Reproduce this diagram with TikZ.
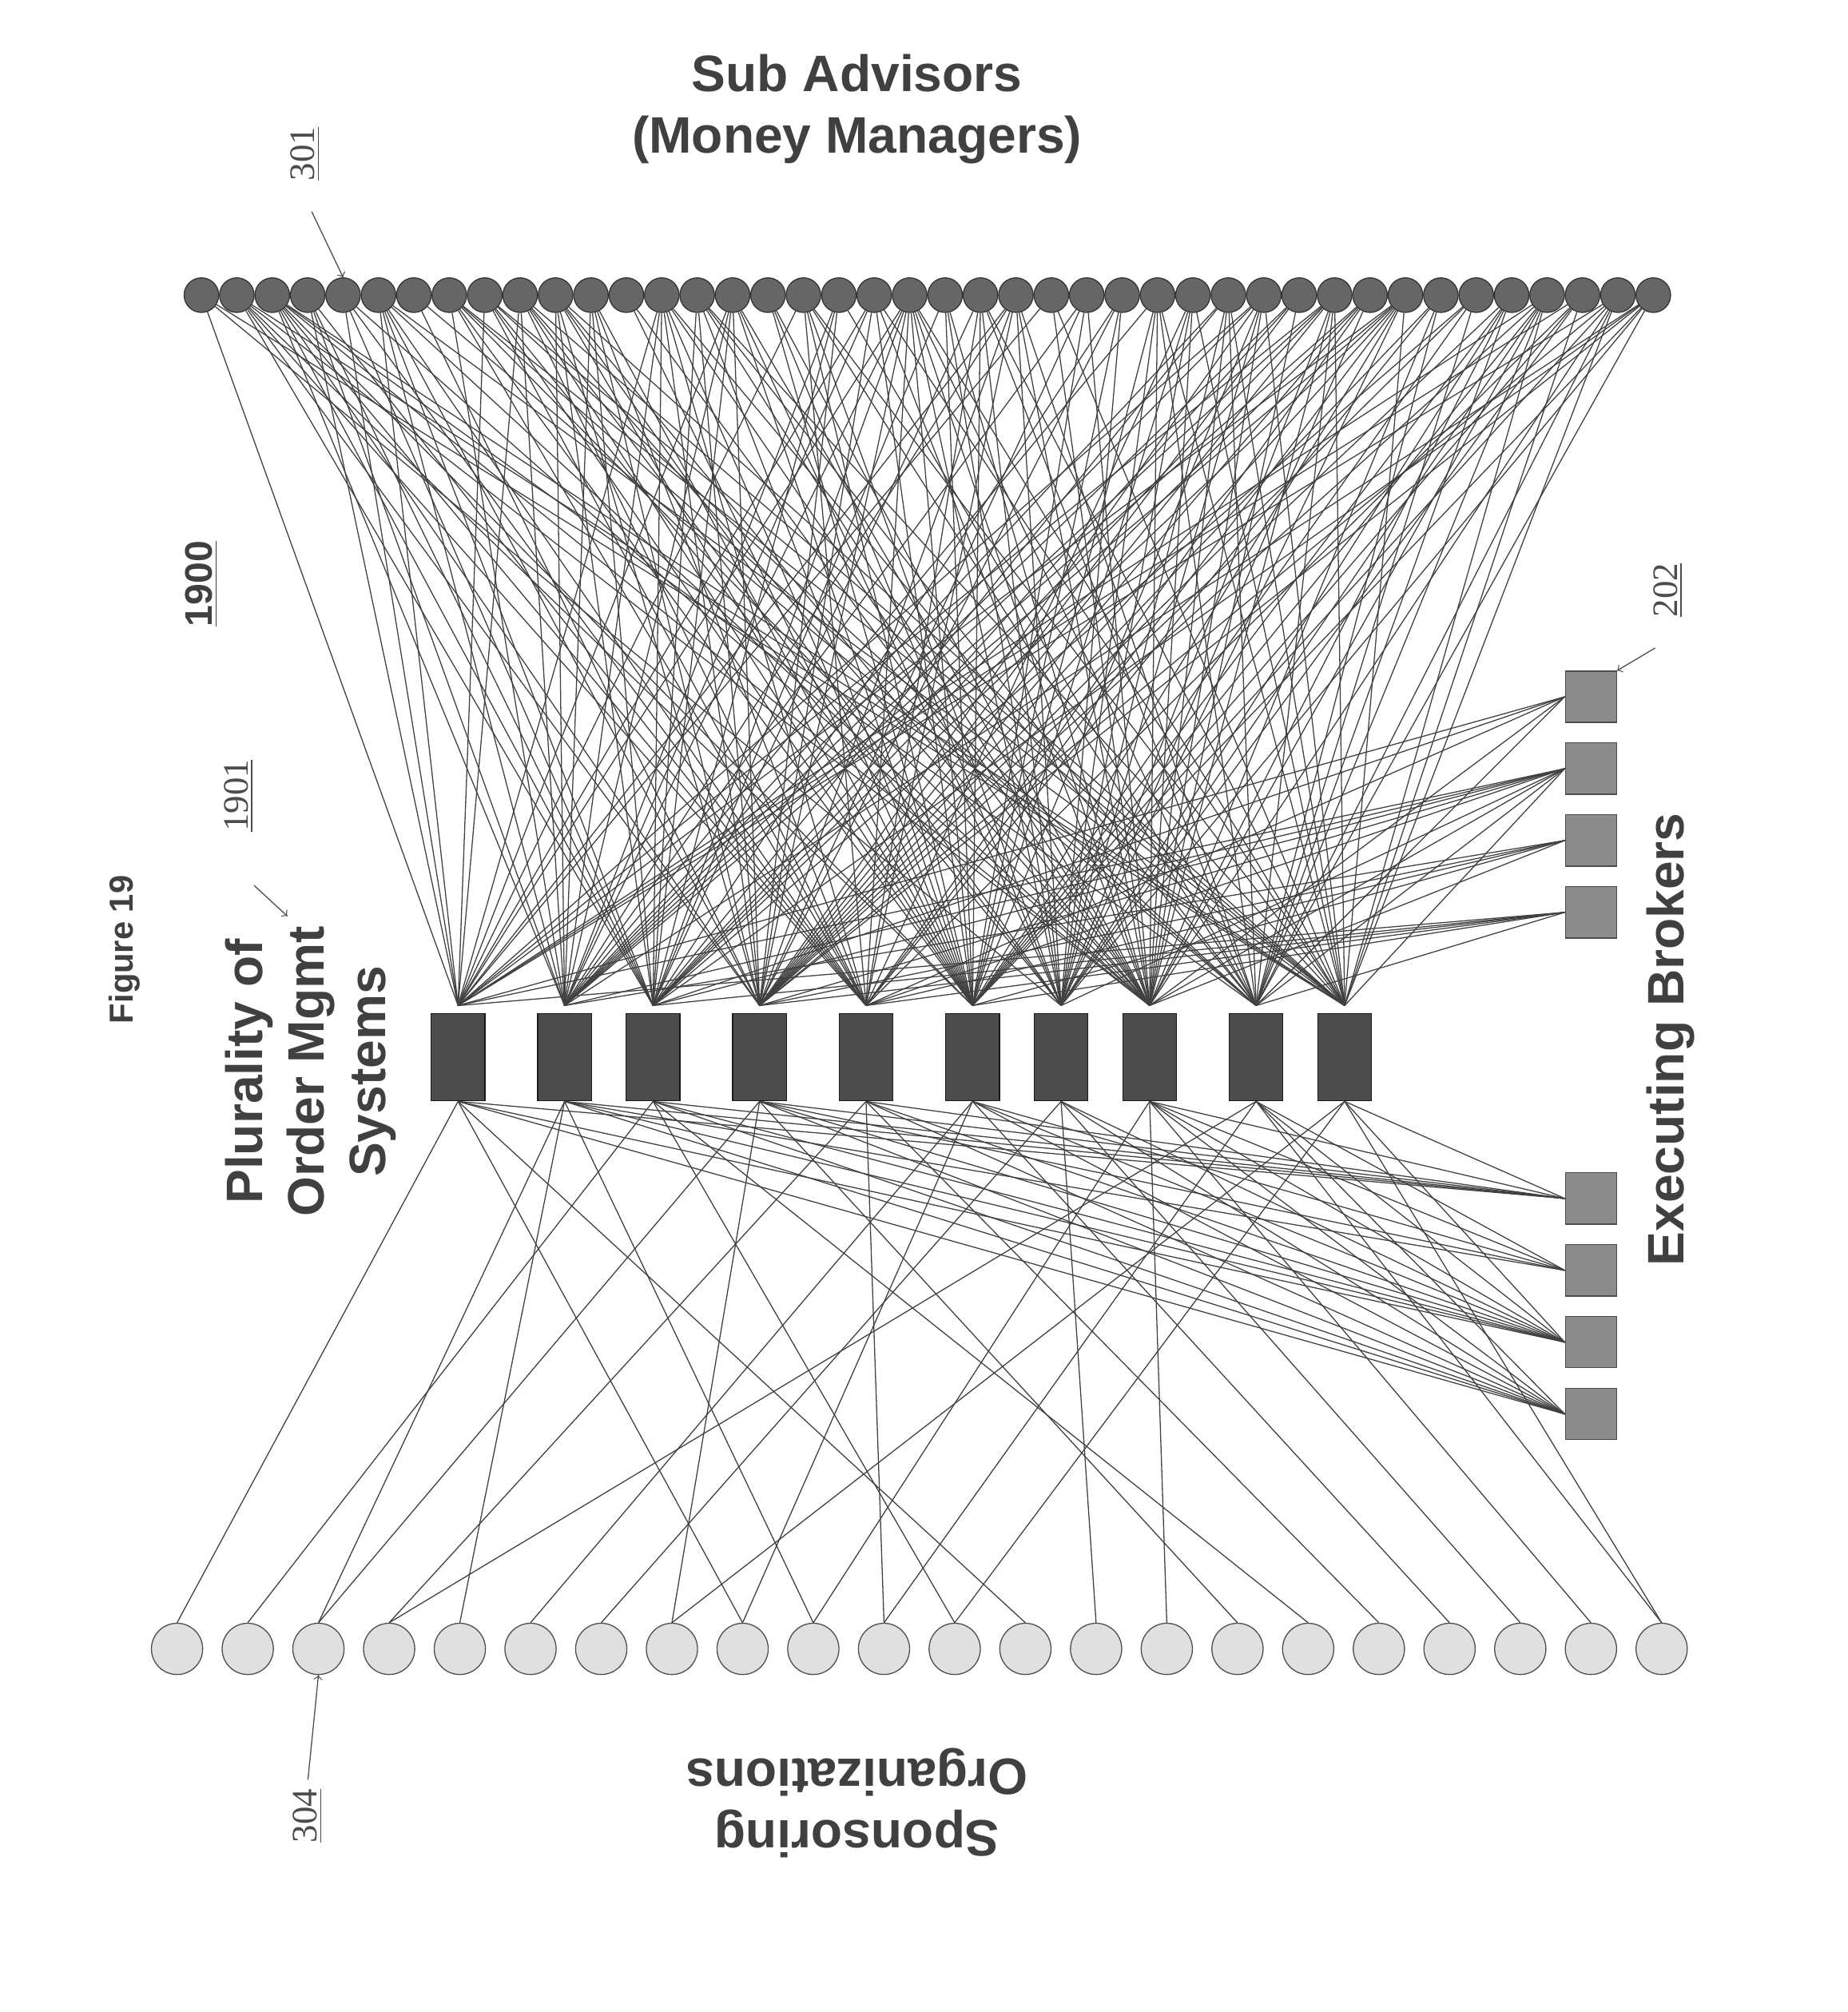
\documentclass[tikz,border=0pt]{standalone}
\usepackage{fontspec}
\setmainfont{Liberation Serif}
\newfontfamily\lab{Liberation Sans}
\usetikzlibrary{backgrounds}
\tikzset{
  advisor/.style={circle, draw=black!80, fill=black!60, minimum size=13.5pt, inner sep=0pt},
  oms/.style={rectangle, draw=black!90, fill=black!70, minimum width=21pt, minimum height=34pt, inner sep=0pt},
  broker/.style={rectangle, draw=black!70, fill=black!45, minimum size=20pt, inner sep=0pt},
  sponsor/.style={circle, draw=black!70, fill=black!12, minimum size=20pt, inner sep=0pt},
  wire/.style={black!75, line width=0.4pt},
  biglab/.style={font=\lab\bfseries\fontsize{20}{24}\selectfont, text=black!75, align=center},
  reflab/.style={font=\fontsize{14}{16}\selectfont, text=black!70}
}
\begin{document}
\begin{tikzpicture}[x=0.0176cm, y=-0.0176cm]
    \useasboundingbox (0,0) rectangle (1440,1568);
    \pgfmathsetseed{19}

    % Titel
    \node[biglab] (title) at (668,85) {Sub Advisors\\(Money Managers)};
    \node[biglab, rotate=180] (spons) at (668,1405) {Sponsoring\\Organizations};
    \node[biglab, rotate=90] (omslab) at (242,835) {Plurality of\\Order Mgmt\\Systems};
    \node[biglab, rotate=90] (brklab) at (1302,810) {Executing Brokers};
    \node[font=\lab\bfseries\fontsize{13}{15}\selectfont, text=black!75, rotate=90] (fig) at (97,740) {Figure 19};
    \node[font=\lab\bfseries\fontsize{15}{17}\selectfont, text=black!75, rotate=90] (num) at (157,455) {\underline{1900}};

    % Knoten
    \foreach \j in {1,...,42}
        \node[advisor] (t\j) at ({157+(\j-1)*27.6}, 230) {};
    \foreach \x [count=\i] in {357,440,509,592,675,758,827,896,979,1048}
        \node[oms] (o\i) at (\x, 824) {};
    \foreach \y [count=\k] in {543,599,655,711,934,990,1046,1102}
        \node[broker] (b\k) at (1240, \y) {};
    \foreach \j in {1,...,22}
        \node[sponsor] (s\j) at ({138+(\j-1)*55.1}, 1285) {};

    % Bezugszeichen
    \node[reflab, rotate=90] (r301) at (238,120) {\underline{301}};
    \draw[->, black!70] (243,165) -- (t5.north);
    \node[reflab, rotate=90] (r1901) at (186,620) {\underline{1901}};
    \draw[->, black!70] (198,690) -- (224,714);
    \node[reflab, rotate=90] (r202) at (1300,460) {\underline{202}};
    \draw[->, black!70] (1290,505) -- (b1.north east);
    \node[reflab, rotate=90] (r304) at (240,1415) {\underline{304}};
    \draw[->, black!70] (r304.east) -- (s3.south);

    % Verbindungen
    \begin{scope}[on background layer]
        \foreach \i in {1,...,10}
            \foreach \j in {1,...,42} {
                \pgfmathparse{rnd<0.55 ? 1 : 0}
                \ifnum\pgfmathresult=1 \draw[wire] (t\j) -- ([yshift=3pt]o\i.north); \fi
            }
        \foreach \i in {1,...,10}
            \foreach \k in {1,...,4} {
                \pgfmathparse{rnd<0.6 ? 1 : 0}
                \ifnum\pgfmathresult=1 \draw[wire] ([yshift=3pt]o\i.north) -- (b\k.west); \fi
            }
        \foreach \i in {1,...,10}
            \foreach \k in {5,...,8} {
                \pgfmathparse{rnd<0.7 ? 1 : 0}
                \ifnum\pgfmathresult=1 \draw[wire] (o\i.south) -- (b\k.west); \fi
            }
        \foreach \i/\j in {1/1,1/13,1/9,2/3,2/5,2/10,3/2,3/17,3/12,4/3,4/16,4/8,5/4,5/18,5/11,
                           6/6,6/19,6/9,7/7,7/20,7/14,8/15,8/21,8/10,9/4,9/22,9/11,10/8,10/12,10/22}
            \draw[wire] (o\i.south) -- (s\j.north);
    \end{scope}
\end{tikzpicture}
\end{document}
